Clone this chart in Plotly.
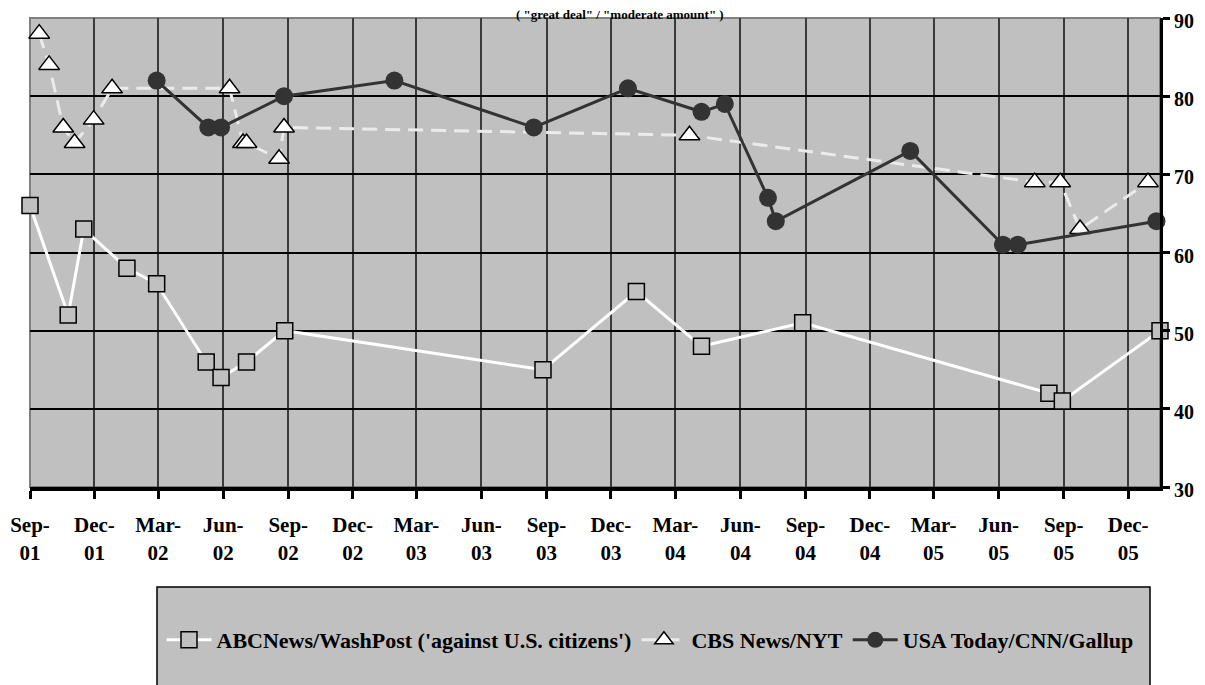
import plotly.graph_objects as go

# ---------------- data ----------------
abc_dates = ["2001-09-01", "2001-10-25", "2001-11-16", "2002-01-16", "2002-02-27",
             "2002-05-08", "2002-05-29", "2002-07-04", "2002-08-27", "2003-08-27",
             "2004-01-06", "2004-04-07", "2004-08-28", "2005-08-11", "2005-08-30",
             "2006-01-15"]
abc_vals = [66, 52, 63, 58, 56, 46, 44, 46, 50, 45, 55, 48, 51, 42, 41, 50]

cbs_dates = ["2001-09-14", "2001-09-28", "2001-10-18", "2001-11-03", "2001-11-30",
             "2001-12-26", "2002-06-10", "2002-06-29", "2002-07-04", "2002-08-19",
             "2002-08-26", "2004-03-21", "2005-07-22", "2005-08-27", "2005-09-24",
             "2005-12-29"]
cbs_vals = [88, 84, 76, 74, 77, 81, 81, 74, 74, 72, 76, 75, 69, 69, 63, 69]

usa_dates = ["2002-02-27", "2002-05-11", "2002-05-29", "2002-08-26", "2003-01-29",
             "2003-08-14", "2003-12-25", "2004-04-07", "2004-05-10", "2004-07-10",
             "2004-07-21", "2005-01-27", "2005-06-07", "2005-06-28", "2006-01-10"]
usa_vals = [82, 76, 76, 80, 82, 76, 81, 78, 79, 67, 64, 73, 61, 61, 64]

tick_dates = ["2001-09-01", "2001-12-01", "2002-03-01", "2002-06-01", "2002-09-01",
              "2002-12-01", "2003-03-01", "2003-06-01", "2003-09-01", "2003-12-01",
              "2004-03-01", "2004-06-01", "2004-09-01", "2004-12-01", "2005-03-01",
              "2005-06-01", "2005-09-01", "2005-12-01"]
tick_labels = ["Sep-<br>01", "Dec-<br>01", "Mar-<br>02", "Jun-<br>02", "Sep-<br>02",
               "Dec-<br>02", "Mar-<br>03", "Jun-<br>03", "Sep-<br>03", "Dec-<br>03",
               "Mar-<br>04", "Jun-<br>04", "Sep-<br>04", "Dec-<br>04", "Mar-<br>05",
               "Jun-<br>05", "Sep-<br>05", "Dec-<br>05"]
y_ticks = [30, 40, 50, 60, 70, 80, 90]

series_names = ["ABCNews/WashPost ('against U.S. citizens')", "CBS News/NYT",
                "USA Today/CNN/Gallup"]
title_text = '( "great deal" / "moderate amount" )'

# ---------------- figure ----------------
# The page body has an 8px margin, so the figure is drawn 8px smaller and
# its margins shifted so that the plot lands at the reference pixel positions.
FONT = "Liberation Serif, Times New Roman, serif"
GRAY = "#C0C0C0"


def px_x(wx):  # window pixel -> paper x
    return (wx - 30) / 1130


def px_y(wy):  # window pixel -> paper y
    return (487 - wy) / 469


fig = go.Figure()
fig.add_trace(go.Scatter(
    x=abc_dates, y=abc_vals, name=series_names[0], mode="lines+markers",
    line=dict(color="white", width=3),
    marker=dict(symbol="square", size=16, color=GRAY, line=dict(color="black", width=1.5)),
    cliponaxis=False))
fig.add_trace(go.Scatter(
    x=cbs_dates, y=cbs_vals, name=series_names[1], mode="lines+markers",
    line=dict(color="#EBEBEB", width=3, dash="15px,8px"),
    marker=dict(symbol="triangle-up", size=18, color="white", line=dict(color="black", width=1.5)),
    cliponaxis=False))
fig.add_trace(go.Scatter(
    x=usa_dates, y=usa_vals, name=series_names[2], mode="lines+markers",
    line=dict(color="#333333", width=3),
    marker=dict(symbol="circle", size=18, color="#333333", line=dict(width=0)),
    cliponaxis=False))

# plot border (gray, top/left) and legend box
fig.add_shape(type="rect", xref="paper", yref="paper", x0=0, x1=1, y0=0, y1=1,
              line=dict(color="#808080", width=2), layer="below")
fig.add_shape(type="rect", xref="paper", yref="paper",
              x0=px_x(157), x1=px_x(1150), y0=px_y(720), y1=px_y(587),
              line=dict(color="black", width=1.5), fillcolor=GRAY, layer="below")

fig.add_annotation(text=title_text, xref="paper", yref="paper",
                   x=px_x(620), y=px_y(14), xanchor="center", yanchor="middle",
                   showarrow=False, font=dict(family=FONT, size=13, color="black", weight="bold"))

fig.update_layout(
    width=1197, height=677, template="none",
    paper_bgcolor="white", plot_bgcolor=GRAY,
    margin=dict(l=22, r=45, t=10, b=198),
    showlegend=True,
    legend=dict(orientation="h", x=px_x(650), xanchor="center",
                y=px_y(640), yanchor="middle", itemwidth=45,
                bgcolor="rgba(0,0,0,0)", borderwidth=0,
                font=dict(family=FONT, size=22, color="black", weight="bold")),
    xaxis=dict(type="date", range=["2001-09-01", "2006-01-15"],
               tickmode="array", tickvals=tick_dates, ticktext=tick_labels,
               showgrid=True, gridcolor="#3A3A3A", gridwidth=1.5,
               showline=True, linecolor="black", linewidth=4,
               ticks="outside", ticklen=8, tickwidth=3, tickcolor="black",
               ticklabelstandoff=8, ticklabeloverflow="allow",
               zeroline=False, automargin=False,
               tickfont=dict(family=FONT, size=21, color="black", weight="bold")),
    yaxis=dict(range=[30, 90], side="right", tickmode="array", tickvals=y_ticks,
               showgrid=True, gridcolor="black", gridwidth=1.5,
               showline=True, linecolor="black", linewidth=3,
               ticks="outside", ticklen=7, tickwidth=3, tickcolor="black",
               ticklabeloverflow="allow", ticklabelshift=3,
               zeroline=False, automargin=False,
               tickfont=dict(family=FONT, size=20, color="black", weight="bold")),
)

fig.write_html("out.html")
